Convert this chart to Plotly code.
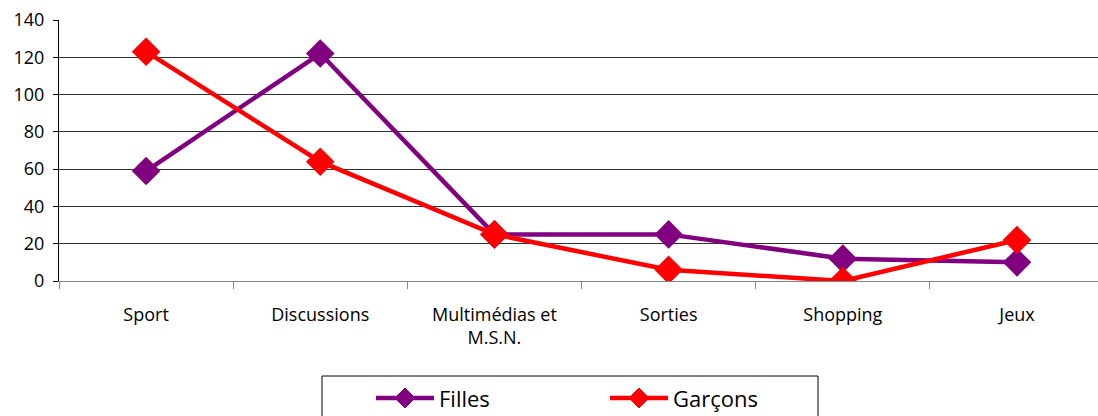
import plotly.graph_objects as go

categories = ["Sport", "Discussions", "Multimédias et<br>M.S.N.", "Sorties", "Shopping", "Jeux"]
filles = [59, 122, 25, 25, 12, 10]
garcons = [123, 64, 25, 6, 0, 22]

FONT = "Open Sans"
PURPLE = "#800080"
RED = "#FF0000"

# plot area in pixels
W, H = 1098, 416
L, T, B = 59, 20, 281
PW, PH = W - L, B - T


def px(x):
    return (x - L) / PW


def py(y):
    return (B - y) / PH


fig = go.Figure()

fig.add_trace(go.Scatter(
    x=categories, y=filles, name="Filles",
    mode="lines+markers",
    line=dict(color=PURPLE, width=4.5),
    marker=dict(symbol="diamond", size=22, color=PURPLE),
))
fig.add_trace(go.Scatter(
    x=categories, y=garcons, name="Garçons",
    mode="lines+markers",
    line=dict(color=RED, width=4.5),
    marker=dict(symbol="diamond", size=22, color=RED),
))

# legend drawn by hand (box, line + diamond symbols, labels)
shapes = [dict(type="rect", xref="paper", yref="paper",
               x0=px(322), x1=px(818), y0=py(420), y1=py(376),
               line=dict(color="black", width=1), fillcolor="white", layer="below")]
annotations = []
legend_items = [("Filles", PURPLE, 376, 434), ("Garçons", RED, 610, 668)]
ly = 398
for name, color, x0, x1 in legend_items:
    shapes.append(dict(type="line", xref="paper", yref="paper",
                       x0=px(x0), x1=px(x1), y0=py(ly), y1=py(ly),
                       line=dict(color=color, width=4.5)))
    cx = (x0 + x1) / 2
    d = 10
    path = "M {} {} L {} {} L {} {} L {} {} Z".format(
        px(cx - d), py(ly), px(cx), py(ly - d), px(cx + d), py(ly), px(cx), py(ly + d))
    shapes.append(dict(type="path", xref="paper", yref="paper", path=path,
                       fillcolor=color, line=dict(color=color, width=1)))
    annotations.append(dict(xref="paper", yref="paper", x=px(x1 + 3), y=py(ly),
                            xanchor="left", yanchor="middle", text=name, showarrow=False,
                            font=dict(size=22, family=FONT, color="black")))

fig.update_layout(
    width=W, height=H,
    margin=dict(l=L, r=0, t=T, b=H - B),
    plot_bgcolor="white", paper_bgcolor="white",
    font=dict(family=FONT, size=18, color="black"),
    showlegend=False,
    shapes=shapes,
    annotations=annotations,
)

fig.update_xaxes(
    type="category",
    range=[-0.5, 5.465],
    tickson="boundaries",
    ticks="outside", ticklen=7, tickcolor="#868686",
    showline=True, linecolor="#868686", linewidth=1,
    showgrid=False,
    automargin=False,
    ticklabelstandoff=17,
    tickfont=dict(size=18),
)
fig.update_yaxes(
    range=[0, 140], dtick=20,
    ticks="outside", ticklen=5, tickcolor="black",
    showline=True, linecolor="black", linewidth=1,
    showgrid=True, gridcolor="#303030", gridwidth=1,
    zeroline=False,
    automargin=False,
    ticklabelstandoff=5,
    tickfont=dict(size=18),
)

fig.write_html("out.html", config={"displayModeBar": False},
               post_script="document.body.style.margin='0';document.body.style.overflow='hidden';")
